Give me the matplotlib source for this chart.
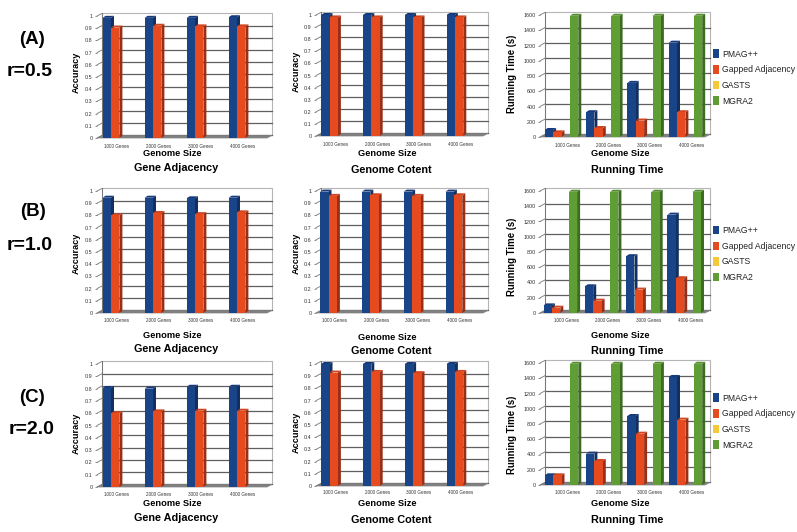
import numpy as np
import matplotlib
matplotlib.use("Agg")
import matplotlib.pyplot as plt
from matplotlib.patches import Patch, Polygon

plt.rcParams["font.family"] = ["Liberation Sans", "DejaVu Sans"]

W, H = 797, 532

GENOMES = ["1000 Genes", "2000 Genes", "3000 Genes", "4000 Genes"]
METHODS = ["PMAG++", "Gapped Adjacency", "GASTS", "MGRA2"]
ACC_TICKS = [0, 0.1, 0.2, 0.3, 0.4, 0.5, 0.6, 0.7, 0.8, 0.9, 1]
TIME_TICKS = [0, 200, 400, 600, 800, 1000, 1200, 1400, 1600]

# gene adjacency accuracy
adj_pmag_a = [0.985, 0.985, 0.985, 0.99]
adj_gapped_a = [0.905, 0.92, 0.915, 0.915]
adj_pmag_b = [0.945, 0.945, 0.94, 0.945]
adj_gapped_b = [0.80, 0.82, 0.81, 0.825]
adj_pmag_c = [0.805, 0.80, 0.815, 0.815]
adj_gapped_c = [0.60, 0.615, 0.62, 0.62]

# genome content accuracy
con_pmag_a = [1.0, 1.0, 1.0, 1.0]
con_gapped_a = [0.98, 0.98, 0.98, 0.98]
con_pmag_b = [0.995, 0.995, 0.995, 0.995]
con_gapped_b = [0.96, 0.965, 0.96, 0.965]
con_pmag_c = [1.0, 1.0, 1.0, 1.0]
con_gapped_c = [0.93, 0.935, 0.925, 0.935]

# running time, GASTS never shows up
time_pmag_a = [92, 325, 710, 1237]
time_gapped_a = [61, 118, 215, 325]
time_pmag_b = [100, 350, 745, 1290]
time_gapped_b = [70, 162, 307, 456]
time_pmag_c = [127, 411, 905, 1417]
time_gapped_c = [127, 315, 673, 857]
time_gasts = [0, 0, 0, 0]
time_mgra2 = [1590, 1590, 1590, 1590]

FRONT = {"PMAG++": "#1a4488", "Gapped Adjacency": "#e64b20", "GASTS": "#f5c83a", "MGRA2": "#5e9e34"}
SIDE = {"PMAG++": "#12305f", "Gapped Adjacency": "#9a2f18", "GASTS": "#a88820", "MGRA2": "#3d6b22"}
TOP = {"PMAG++": "#16397a", "Gapped Adjacency": "#d2441d", "GASTS": "#e0b530", "MGRA2": "#548f2e"}

BAR_W = 8.4    # px
WALL_D = (5, 2.6)
BAR_D = (3, 2)

fig = plt.figure(figsize=(W / 100, H / 100), dpi=100, facecolor="white")


def label(x, y, s, **kw):
    fig.text(x / W, 1 - y / H, s, ha="center", va="center", **kw)


def draw_chart(left, right, bottom, top, c0, pitch, ticks, series, label_y):
    ax = fig.add_axes([left / W, 1 - bottom / H, (right - left) / W, (bottom - top) / H])
    ymax = ticks[-1]
    ax.set_xlim((left - c0) / pitch, (right - c0) / pitch)
    ax.set_ylim(0, ymax)
    ax.patch.set_visible(False)
    for sp in ax.spines.values():
        sp.set_visible(False)

    xl, xr = ax.get_xlim()
    ux = 1 / pitch                       # data units per px
    uy = ymax / (bottom - top)
    wx, wy = WALL_D[0] * ux, WALL_D[1] * uy
    bx, by = BAR_D[0] * ux, BAR_D[1] * uy

    # back wall, floor, grid
    ax.add_patch(Polygon([(xl + wx, wy), (xr + wx, wy), (xr + wx, ymax + wy), (xl + wx, ymax + wy)],
                         closed=True, fc="white", ec="#b5b5b5", lw=0.8, clip_on=False, zorder=1))
    for t in ticks:
        if t != ticks[-1]:
            ax.plot([xl + wx, xr + wx], [t + wy, t + wy], color="#5f5f5f", lw=0.9, clip_on=False, zorder=1.5)
        ax.plot([xl, xl + wx], [t, t + wy], color="#777777", lw=0.6, clip_on=False, zorder=1.5)
    ax.plot([xl + wx, xl + wx], [wy, ymax + wy], color="#777777", lw=0.7, clip_on=False, zorder=1.5)
    ax.add_patch(Polygon([(xl, 0), (xr, 0), (xr + wx, wy), (xl + wx, wy)],
                         closed=True, fc="#808080", ec="#808080", lw=0.5, clip_on=False, zorder=2))

    # bars, front face plus fake depth
    x = np.arange(len(GENOMES))
    bw = BAR_W * ux
    n = len(series)
    for k, (name, vals) in enumerate(series):
        xs = x + (k - (n - 1) / 2) * bw
        z = 3 + k * 0.1
        ax.bar(xs, vals, width=bw, color=FRONT[name], lw=0, zorder=z + 0.02)
        for xc, v in zip(xs, vals):
            if v <= 0:
                continue
            a, b = xc - bw / 2, xc + bw / 2
            ax.add_patch(Polygon([(b, 0), (b + bx, by), (b + bx, v + by), (b, v)], closed=True,
                                 fc=SIDE[name], ec="none", clip_on=False, zorder=z))
            ax.add_patch(Polygon([(a, v), (b, v), (b + bx, v + by), (a + bx, v + by)], closed=True,
                                 fc=TOP[name], ec="none", clip_on=False, zorder=z + 0.01))

    ax.set_yticks(ticks)
    ax.set_yticklabels([str(t) for t in ticks])
    ax.tick_params(axis="y", length=1.5, width=0.5, color="#666666", pad=1.5,
                   labelsize=3.9, labelcolor="#333333")
    ax.set_xticks(x + 6 * ux)
    ax.set_xticklabels(GENOMES)
    ax.tick_params(axis="x", length=0, pad=(label_y - 2.5 - bottom) * 0.72,
                   labelsize=3.3, labelcolor="#333333")
    return ax


def draw_legend(ax, y_center):
    handles = [Patch(fc=FRONT[m], ec="none") for m in METHODS]
    leg = ax.legend(handles, METHODS, loc="center left", frameon=False,
                    bbox_to_anchor=(713 / W, 1 - y_center / H), bbox_transform=fig.transFigure,
                    fontsize=6.2, handlelength=0.65, handleheight=1.15, handletextpad=0.4,
                    labelspacing=0.75, borderpad=0, borderaxespad=0)
    for t in leg.get_texts():
        t.set_color("#222222")


BOLD = dict(fontweight="bold", color="black")

# left column
rows_adj = [
    (138, 16, adj_pmag_a, adj_gapped_a, 146, 72, 154, 168),
    (313, 191, adj_pmag_b, adj_gapped_b, 321, 253, 335, 349),
    (487, 364, adj_pmag_c, adj_gapped_c, 495, 433, 504, 518),
]
for bottom, top, pmag, gapped, ly, yl, gs, ttl in rows_adj:
    draw_chart(97, 267, bottom, top, 111, 42, ACC_TICKS,
               [("PMAG++", pmag), ("Gapped Adjacency", gapped)], ly)
    label(76, yl, "Accuracy", rotation=90, fontsize=6.6, **BOLD)
    label(172, gs, "Genome Size", fontsize=6.7, **BOLD)
    label(176, ttl, "Gene Adjacency", fontsize=7.8, **BOLD)

# middle column
rows_con = [
    (136, 15, 329.5, con_pmag_a, con_gapped_a, 144, 71, 154, 170),
    (313, 191, 328.5, con_pmag_b, con_gapped_b, 321, 253, 337, 351),
    (486, 364, 329.5, con_pmag_c, con_gapped_c, 493, 432, 504, 520),
]
for bottom, top, c0, pmag, gapped, ly, yl, gs, ttl in rows_con:
    draw_chart(316, 483, bottom, top, c0, 41.8, ACC_TICKS,
               [("PMAG++", pmag), ("Gapped Adjacency", gapped)], ly)
    label(296, yl, "Accuracy", rotation=90, fontsize=6.6, **BOLD)
    label(387, gs, "Genome Size", fontsize=6.7, **BOLD)
    label(391, ttl, "Genome Cotent", fontsize=7.8, **BOLD)

# right column
rows_time = [
    (137, 15, 561.5, time_pmag_a, time_gapped_a, 145, 74, 154, 170, 77.5),
    (313, 191, 560.3, time_pmag_b, time_gapped_b, 321, 257, 335, 351, 254),
    (485, 363, 561.5, time_pmag_c, time_gapped_c, 493, 435, 504, 520, 421.5),
]
for bottom, top, c0, pmag, gapped, ly, yl, gs, ttl, leg_y in rows_time:
    ax = draw_chart(540, 705, bottom, top, c0, 41.3, TIME_TICKS,
                    [("PMAG++", pmag), ("Gapped Adjacency", gapped),
                     ("GASTS", time_gasts), ("MGRA2", time_mgra2)], ly)
    label(512, yl, "Running Time (s)", rotation=90, fontsize=6.9, **BOLD)
    label(620, gs, "Genome Size", fontsize=6.7, **BOLD)
    label(627, ttl, "Running Time", fontsize=7.8, **BOLD)
    draw_legend(ax, leg_y)

# row tags
for tag, ratio, (tx, ty), (rx, ry) in [
    ("(A)", "r=0.5", (32, 39), (30, 71)),
    ("(B)", "r=1.0", (33, 212), (30, 246)),
    ("(C)", "r=2.0", (32, 398), (32, 430)),
]:
    label(tx, ty, tag, fontsize=13.5, **BOLD)
    label(rx, ry, ratio, fontsize=14, **BOLD)

fig.savefig("out.png", dpi=100)
